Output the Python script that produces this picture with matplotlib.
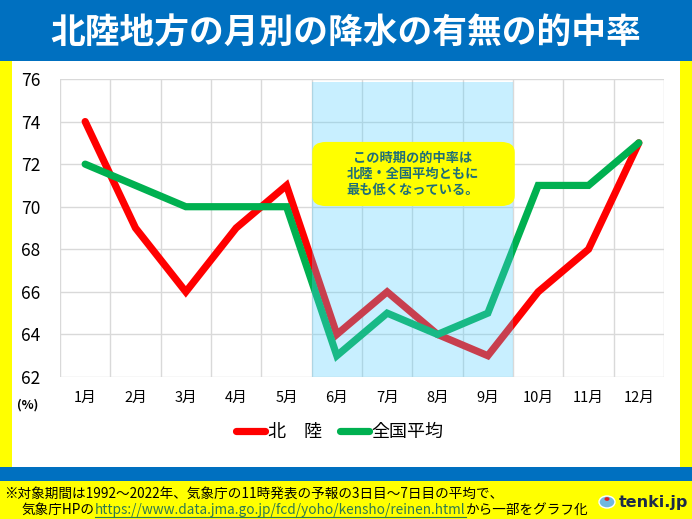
import matplotlib
matplotlib.use('agg')
import matplotlib.pyplot as plt
from matplotlib.patches import Rectangle, FancyBboxPatch, Circle
from matplotlib.lines import Line2D

plt.rcParams['font.family'] = ['Noto Sans CJK JP', 'DejaVu Sans']

months = ['1月', '2月', '3月', '4月', '5月', '6月', '7月', '8月', '9月', '10月', '11月', '12月']
hokuriku = [74, 69, 66, 69, 71, 64, 66, 64, 63, 66, 68, 73]
zenkoku = [72, 71, 70, 70, 70, 63, 65, 64, 65, 71, 71, 73]
yticks = [62, 64, 66, 68, 70, 72, 74, 76]

W, H = 692, 519
fig = plt.figure(figsize=(W / 100, H / 100), dpi=100)
fig.patch.set_facecolor('#FFFF00')

def fr(x0, y0, x1, y1, color):
    # rectangle in pixel coords (y from top)
    fig.patches.append(Rectangle((x0 / W, 1 - y1 / H), (x1 - x0) / W, (y1 - y0) / H,
                                 transform=fig.transFigure, facecolor=color,
                                 edgecolor='none', zorder=-5))

fr(0, 0, W, 61, '#0070C0')
fr(12, 61, 680, 467, 'white')
fr(0, 467, W, 481, '#0070C0')

fig.text(346 / W, 1 - 33 / H, '北陸地方の月別の降水の有無の的中率', color='white',
         fontsize=25, fontweight='bold', ha='center', va='center')

ax = fig.add_axes([60 / W, 1 - 377 / H, 604 / W, 298 / H])
ax.set_zorder(1)
ax.set_facecolor('white')
x = list(range(1, 13))
ax.plot(x, hokuriku, color='#FF0000', lw=5.2, solid_capstyle='round',
        solid_joinstyle='miter', label='北　陸', zorder=3)
ax.plot(x, zenkoku, color='#00B050', lw=5.2, solid_capstyle='round',
        solid_joinstyle='miter', label='全国平均', zorder=3)
ax.axvspan(5.5, 9.5, ymin=0, ymax=0.99, facecolor='#50CEFF', alpha=0.31,
           edgecolor='none', zorder=4)

ax.set_xlim(0.5, 12.5)
ax.set_ylim(62, 76)
ax.set_yticks(yticks)
ax.set_xticks(x)
ax.set_xticklabels(months, fontsize=10.5)
ax.grid(False)
for v in yticks:
    ax.axhline(v, color='#D9D9D9', lw=1, zorder=1)
for v in [i + 0.5 for i in range(0, 13)]:
    ax.axvline(v, color='#D9D9D9', lw=1, zorder=1)
for s in ax.spines.values():
    s.set_visible(False)
ax.tick_params(axis='both', length=0)
ax.tick_params(axis='y', labelsize=12.5, pad=14)
ax.tick_params(axis='x', pad=10)

fig.text(28 / W, 1 - 405 / H, '(%)', fontsize=9, fontweight='bold',
         ha='center', va='center')

box = FancyBboxPatch((315 / W, 1 - 204 / H), 197 / W, 60 / H,
                     boxstyle='round,pad=0.004,rounding_size=0.02',
                     transform=fig.transFigure, facecolor='#FFFF00',
                     edgecolor='none', zorder=10)
fig.patches.append(box)
fig.text(413 / W, 1 - 174 / H, 'この時期の的中率は\n北陸・全国平均ともに\n最も低くなっている。',
         fontsize=9.5, fontweight='bold', color='#1F6E78', ha='center', va='center',
         linespacing=1.2, zorder=11)

fig.legend(loc='center', bbox_to_anchor=(340 / W, 1 - 432 / H), ncol=2,
           frameon=False, fontsize=13, handlelength=1.6, handletextpad=0.15,
           columnspacing=1.0)

# footer
fs = 9.8
fig.text(4 / W, 1 - 494 / H, '※対象期間は1992～2022年、気象庁の11時発表の予報の3日目～7日目の平均で、',
         fontsize=fs, ha='left', va='center')
fig.canvas.draw()
r = fig.canvas.get_renderer()
t1 = fig.text(22 / W, 1 - 510 / H, '気象庁HPの', fontsize=fs, ha='left', va='center')
e1 = t1.get_window_extent(r)
t2 = fig.text(e1.x1 / W, 1 - 510 / H, 'https://www.data.jma.go.jp/fcd/yoho/kensho/reinen.html',
              fontsize=fs, ha='left', va='center', color='#2F7A4F')
e2 = t2.get_window_extent(r)
fig.lines.append(Line2D([e2.x0 / W, e2.x1 / W], [(1 - 517 / H), (1 - 517 / H)],
                        transform=fig.transFigure, color='#2F7A4F', lw=0.8))
fig.text(e2.x1 / W, 1 - 510 / H, 'から一部をグラフ化', fontsize=fs, ha='left', va='center')

fig.patches.append(Circle((607 / W, 1 - 502 / H), 8 / W, transform=fig.transFigure,
                          facecolor='#6FB8E0', edgecolor='white', lw=1))
fig.patches.append(Circle((607 / W, 1 - 499 / H), 2.5 / W, transform=fig.transFigure,
                          facecolor='#E02020', edgecolor='none'))
fig.text(619 / W, 1 - 502 / H, 'tenki.jp', fontsize=11.5, fontweight='bold',
         color='#1C2B4A', ha='left', va='center', family='DejaVu Sans')

fig.savefig('out.png', dpi=100, facecolor=fig.get_facecolor())
